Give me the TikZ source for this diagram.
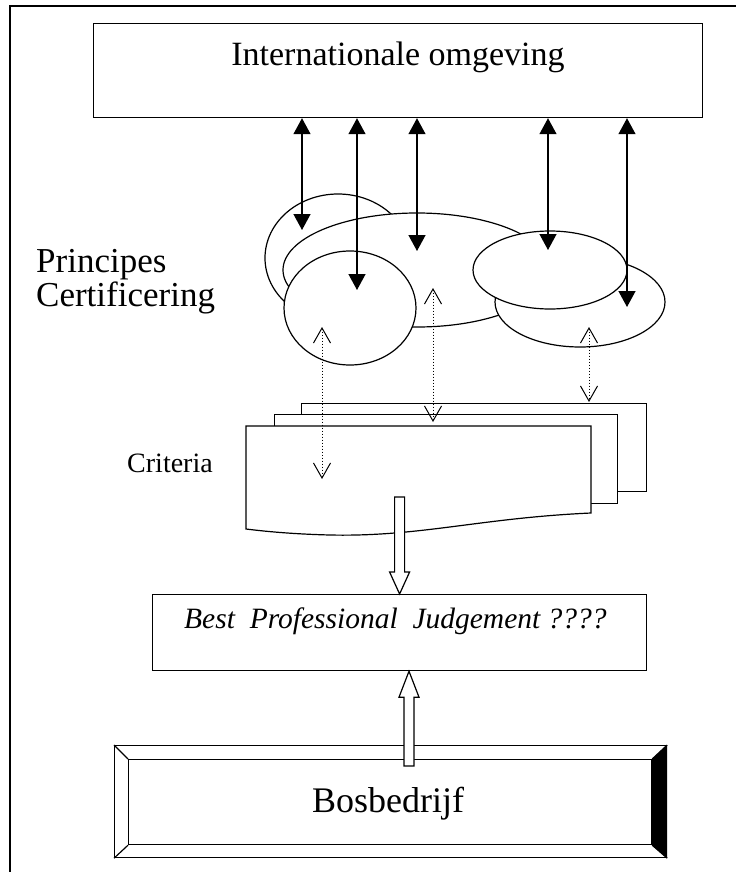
\documentclass[tikz,border=0pt]{standalone}
\usepackage{fontspec}
\setmainfont{Liberation Serif}
\usetikzlibrary{arrows.meta,shapes.geometric}
\begin{document}
\begin{tikzpicture}[x=1pt,y=-1pt,
  box/.style={draw,line width=1.2pt,fill=white,inner sep=0pt},
  ell/.style={draw,line width=1.2pt,fill=white,ellipse,inner sep=0pt},
  hollow/.style={draw,line width=1.2pt,fill=white},
  solidarrow/.style={line width=1.4pt,{Triangle[width=17pt,length=16pt]}-{Triangle[width=17pt,length=16pt]}},
  dotarrow/.style={line width=1pt,dotted,{Straight Barb[width=17pt,length=15pt,line width=1pt]}-{Straight Barb[width=17pt,length=15pt,line width=1pt]}},
  lbl/.style={inner sep=0pt,anchor=base west}
]
\useasboundingbox (0,0) rectangle (736,872);
% frame
\coordinate (fbl) at (10,872);
\coordinate (ftl) at (10,6);
\coordinate (ftr) at (736,6);
\draw[line width=1.3pt] (fbl) -- (ftl) -- (ftr);

% top box
\node[box,minimum width=609pt,minimum height=94pt,anchor=north west] (top) at (93,23) {};
\node[inner sep=0pt,anchor=base,font=\fontsize{34}{40}\selectfont] (toptxt) at (398,66) {Internationale omgeving};

% ellipses
\node[ell,minimum width=146pt,minimum height=128pt] (e1) at (338,258) {};
\node[ell,minimum width=268pt,minimum height=114pt] (e2) at (417,270) {};
\node[ell,minimum width=132pt,minimum height=114pt] (e3) at (350,308) {};
\node[ell,minimum width=170pt,minimum height=90pt] (e5) at (580,302) {};
\node[ell,minimum width=154pt,minimum height=78pt] (e4) at (550,270) {};

% labels
\node[lbl,font=\fontsize{35}{40}\selectfont] (p1) at (36,272) {Principes};
\node[lbl,font=\fontsize{35}{40}\selectfont] (p2) at (36,306) {Certificering};
\node[inner sep=0pt,font=\fontsize{28}{32}\selectfont] (crit) at (170,463) {Criteria};

% criteria documents
\node[box,minimum width=345pt,minimum height=88pt,anchor=north west] (doc3) at (301,403) {};
\node[box,minimum width=343pt,minimum height=89pt,anchor=north west] (doc2) at (274,414) {};
\coordinate (d1tl) at (246,426);
\coordinate (d1tr) at (591,426);
\coordinate (d1br) at (591,513);
\coordinate (d1bl) at (246,529);
\draw[hollow] (d1tl) -- (d1tr) -- (d1br)
  .. controls (480,518) and (420,537) .. (330,535)
  .. controls (290,534) and (262,531) .. (d1bl) -- cycle;
\coordinate (doc1) at (408,497);

% BPJ box
\node[box,minimum width=494pt,minimum height=76pt,anchor=north west] (bpj) at (152,594) {};
\node[inner sep=0pt,anchor=base west,font=\itshape\fontsize{29.5}{34}\selectfont] (bpjtxt) at (184,628) {Best\ \ Professional\ \ Judgement ????};

% Bosbedrijf bevel box
\node[box,minimum width=552pt,minimum height=112pt,anchor=north west] (bos) at (114,745) {};
\node[box,minimum width=523pt,minimum height=85pt,anchor=north west] (bosin) at (128,759) {};
\fill (bosin.north east) -- (bos.north east) -- (bos.south east) -- (bosin.south east) -- cycle;
\draw[line width=1.2pt] (bos.north west) -- (bosin.north west);
\draw[line width=1.2pt] (bos.south west) -- (bosin.south west);
\draw[line width=1.2pt] (bos.north east) -- (bosin.north east);
\draw[line width=1.2pt] (bos.south east) -- (bosin.south east);
\node[inner sep=0pt,anchor=base,font=\fontsize{36}{42}\selectfont] (bostxt) at (388,812) {Bosbedrijf};

% solid double arrows
\coordinate (a1) at (302,230);
\coordinate (a2) at (357,290);
\coordinate (a3) at (417,251);
\coordinate (a4) at (548,250);
\coordinate (a5) at (627,307);
\foreach \c in {a1,a2,a3,a4,a5}
  \draw[solidarrow] (top.south -| \c) -- (\c);

% dotted double arrows
\coordinate (d1a) at (322,327);
\coordinate (d1b) at (322,479);
\coordinate (d2a) at (433,288);
\coordinate (d2b) at (433,422);
\coordinate (d3a) at (589,327);
\coordinate (d3b) at (589,402);
\draw[dotarrow] (d1a) -- (d1b);
\draw[dotarrow] (d2a) -- (d2b);
\draw[dotarrow] (d3a) -- (d3b);

% hollow arrow down (criteria -> BPJ)
\draw[hollow] (doc1 -| bpj.north) ++(-5,0) -- ++(10,0) -- ([shift={(5,-22)}]bpj.north)
  -- ([shift={(10,-22)}]bpj.north) -- (bpj.north) -- ([shift={(-10,-22)}]bpj.north)
  -- ([shift={(-5,-22)}]bpj.north) -- cycle;

% hollow arrow up (Bosbedrijf -> BPJ)
\coordinate (bosup) at (409,766);
\draw[hollow] ([shift={(-5,0)}]bosup) -- ([shift={(5,0)}]bosup) -- ([shift={(5,26)}]bpj.south -| bosup)
  -- ([shift={(10,26)}]bpj.south -| bosup) -- (bpj.south -| bosup) -- ([shift={(-10,26)}]bpj.south -| bosup)
  -- ([shift={(-5,26)}]bpj.south -| bosup) -- cycle;
\end{tikzpicture}
\end{document}
